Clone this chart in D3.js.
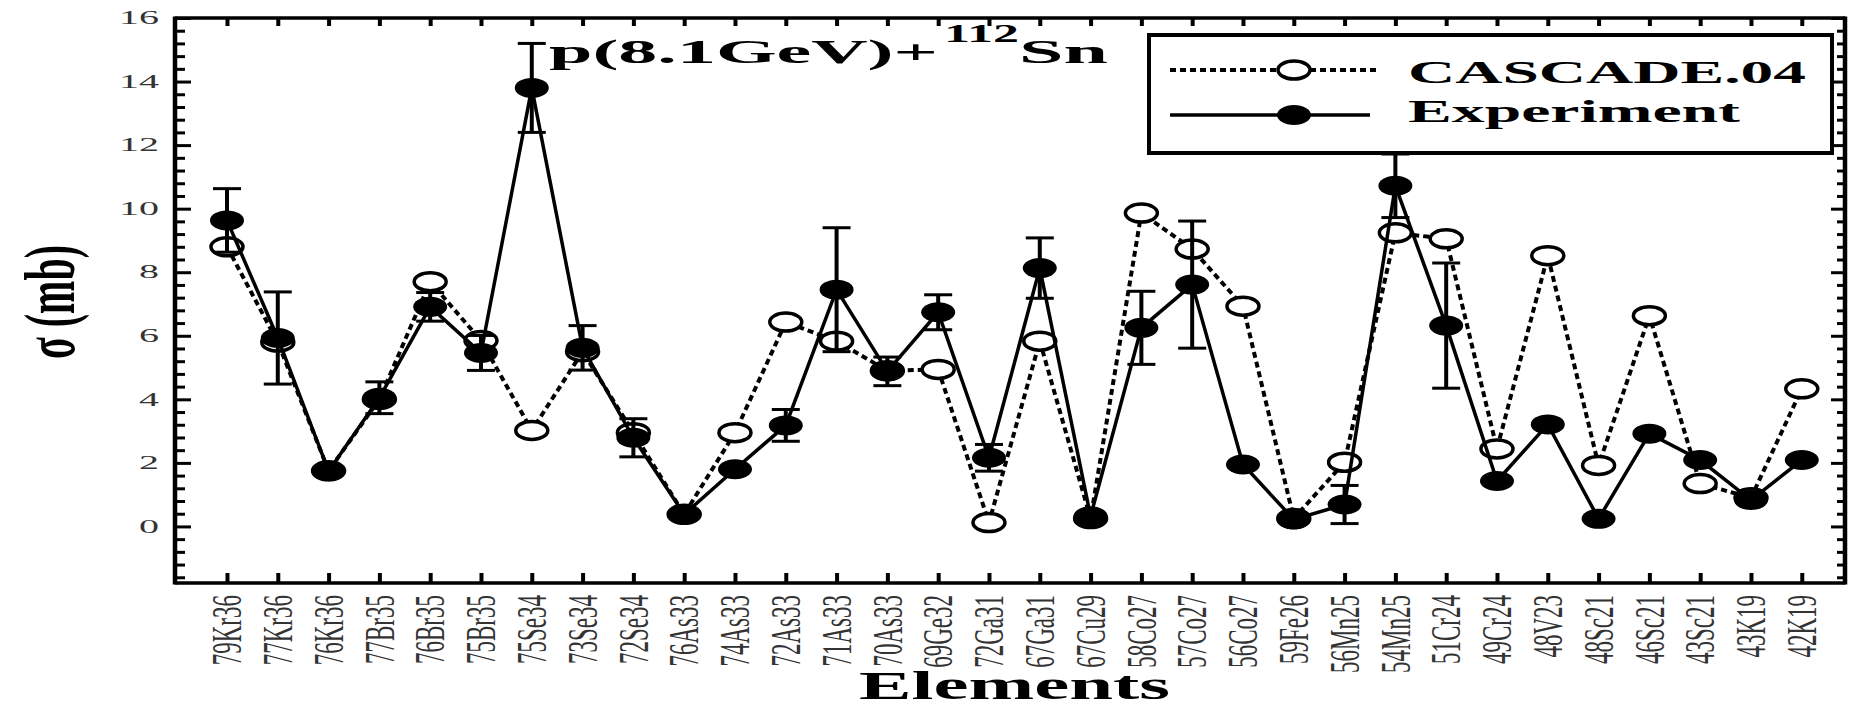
<!DOCTYPE html>
<html>
<head>
<meta charset="utf-8">
<script src="https://cdn.jsdelivr.net/npm/d3@7"></script>
<style>
  body { margin: 0; background: #fff; }
  text { font-family: "Liberation Serif", "DejaVu Serif", serif; }
</style>
</head>
<body>
<div id="graph"></div>
<script>
// data
var elements = ["79Kr36","77Kr36","76Kr36","77Br35","76Br35","75Br35","75Se34","73Se34","72Se34","76As33",
                "74As33","72As33","71As33","70As33","69Ge32","72Ga31","67Ga31","67Cu29","58Co27","57Co27",
                "56Co27","59Fe26","56Mn25","54Mn25","51Cr24","49Cr24","48V23","48Sc21","46Sc21","43Sc21",
                "43K19","42K19"];
var cascade = [8.8, 5.8, 1.75, 4.0, 7.7, 5.85, 3.02, 5.5, 2.95, 0.38,
               2.95, 6.43, 5.83, 4.9, 4.94, 0.12, 5.83, 0.25, 9.86, 8.73,
               6.93, 0.25, 2.02, 9.24, 9.05, 2.44, 8.52, 1.92, 6.63, 1.35,
               0.9, 4.33];
var experiment = [9.63, 5.93, 1.74, 4.05, 6.91, 5.46, 13.8, 5.62, 2.79, 0.38,
                  1.8, 3.18, 7.45, 4.88, 6.74, 2.16, 8.13, 0.32, 6.25, 7.61,
                  1.95, 0.22, 0.69, 10.72, 6.32, 1.43, 3.21, 0.24, 2.92, 2.09,
                  0.83, 2.09];
var expError = [1.0, 1.45, 0, 0.5, 0.45, 0.55, 1.4, 0.7, 0.6, 0,
                0, 0.5, 1.95, 0.45, 0.55, 0.42, 0.95, 0, 1.15, 2.0,
                0, 0, 0.6, 1.0, 1.97, 0, 0, 0, 0, 0,
                0, 0];
var yTicks = [0, 2, 4, 6, 8, 10, 12, 14, 16];
var legendNames = ["CASCADE.04", "Experiment"];

// set the dimensions and margins of the graph
var margin = {top: 18, right: 4, bottom: 126, left: 175},
    width = 1849 - margin.left - margin.right,
    height = 709 - margin.top - margin.bottom;

var x = d3.scalePoint().domain(d3.range(elements.length))
    .range([0, width]).padding(0.937).align(0.546);
var y = d3.scaleLinear().domain([-1.78, 16]).range([height, 0]);

var minorTicks = d3.range(-4, 41).map(function(k) { return +(k * 0.4).toFixed(1); })
    .filter(function(v) { return yTicks.indexOf(v) < 0; });

var svg = d3.select("#graph").append("svg")
    .attr("width", 1849)
    .attr("height", 709)
  .append("g")
    .attr("transform", "translate(" + margin.left + "," + margin.top + ")");

// axes with inward ticks
function styleTicks(g, w) {
  g.select(".domain").remove();
  g.selectAll(".tick line").attr("stroke", "#000").attr("stroke-width", w);
}

var left = svg.append("g")
    .call(d3.axisLeft(y).tickValues(yTicks).tickSize(-16).tickPadding(16));
styleTicks(left, 3);
left.selectAll(".tick text")
    .attr("fill", "#333")
    .style("font-size", "18px")
    .attr("lengthAdjust", "spacingAndGlyphs")
    .attr("textLength", function(d) { return String(d).length * 20; });

svg.append("g")
    .call(d3.axisLeft(y).tickValues(minorTicks).tickSize(-10).tickFormat(""))
    .call(styleTicks, 3);

svg.append("g")
    .attr("transform", "translate(" + width + ",0)")
    .call(d3.axisRight(y).tickValues(yTicks).tickSize(-14).tickFormat(""))
    .call(styleTicks, 3);
svg.append("g")
    .attr("transform", "translate(" + width + ",0)")
    .call(d3.axisRight(y).tickValues(minorTicks).tickSize(-8).tickFormat(""))
    .call(styleTicks, 3);

svg.append("g")
    .call(d3.axisTop(x).tickSize(-8).tickFormat(""))
    .call(styleTicks, 4);
svg.append("g")
    .attr("transform", "translate(0," + height + ")")
    .call(d3.axisBottom(x).tickSize(-10).tickFormat(""))
    .call(styleTicks, 4);

// frame
svg.append("line").attr("x1", 0).attr("x2", width).attr("y1", 0).attr("y2", 0)
    .attr("stroke", "#000").attr("stroke-width", 3.5);
svg.append("line").attr("x1", 0).attr("x2", width).attr("y1", height).attr("y2", height)
    .attr("stroke", "#000").attr("stroke-width", 3.5);
svg.append("line").attr("x1", 0).attr("x2", 0).attr("y1", -1.5).attr("y2", height + 1.5)
    .attr("stroke", "#000").attr("stroke-width", 4.5);
svg.append("line").attr("x1", width).attr("x2", width).attr("y1", -1.5).attr("y2", height + 1.5)
    .attr("stroke", "#000").attr("stroke-width", 4.5);

// element labels, rotated and stretched like the picture
svg.selectAll(".xlab")
    .data(elements)
  .enter().append("text")
    .attr("class", "xlab")
    .attr("transform", function(d, i) {
      return "translate(" + x(i) + "," + (height + 12) + ") scale(1.85,1) rotate(-90)";
    })
    .attr("text-anchor", "end")
    .attr("dominant-baseline", "central")
    .attr("fill", "#333")
    .style("font-size", "23px")
    .text(function(d) { return d; });

// lines
var valueline = function(values) {
  return d3.line()
      .x(function(d, i) { return x(i); })
      .y(function(d) { return y(d); })(values);
};

svg.append("path")
    .attr("d", valueline(cascade))
    .attr("fill", "none")
    .attr("stroke", "#000")
    .attr("stroke-width", 4)
    .attr("stroke-dasharray", "6,4");

svg.selectAll(".casc")
    .data(cascade)
  .enter().append("ellipse")
    .attr("class", "casc")
    .attr("cx", function(d, i) { return x(i); })
    .attr("cy", function(d) { return y(d); })
    .attr("rx", 16).attr("ry", 9)
    .attr("fill", "#fff")
    .attr("stroke", "#000")
    .attr("stroke-width", 3.5);

svg.append("path")
    .attr("d", valueline(experiment))
    .attr("fill", "none")
    .attr("stroke", "#000")
    .attr("stroke-width", 3.5);

// error bars
var bars = svg.selectAll(".err")
    .data(experiment.map(function(v, i) { return {i: i, v: v, e: expError[i]}; })
      .filter(function(d) { return d.e > 0; }))
  .enter().append("g")
    .attr("class", "err");
bars.append("line")
    .attr("x1", function(d) { return x(d.i); })
    .attr("x2", function(d) { return x(d.i); })
    .attr("y1", function(d) { return y(d.v + d.e); })
    .attr("y2", function(d) { return y(d.v - d.e); })
    .attr("stroke", "#000").attr("stroke-width", 4);
[1, -1].forEach(function(s) {
  bars.append("line")
      .attr("x1", function(d) { return x(d.i) - 14; })
      .attr("x2", function(d) { return x(d.i) + 14; })
      .attr("y1", function(d) { return y(d.v + s * d.e); })
      .attr("y2", function(d) { return y(d.v + s * d.e); })
      .attr("stroke", "#000").attr("stroke-width", 3);
});

svg.selectAll(".expt")
    .data(experiment)
  .enter().append("ellipse")
    .attr("class", "expt")
    .attr("cx", function(d, i) { return x(i); })
    .attr("cy", function(d) { return y(d); })
    .attr("rx", 17).attr("ry", 10)
    .attr("fill", "#000");

// legend
var legend = svg.append("g")
    .attr("transform", "translate(" + (1149 - margin.left) + "," + (35 - margin.top) + ")");
legend.append("rect")
    .attr("width", 683).attr("height", 118)
    .attr("fill", "#fff").attr("stroke", "#000").attr("stroke-width", 4);
legend.append("line")
    .attr("x1", 21).attr("x2", 227).attr("y1", 35).attr("y2", 35)
    .attr("stroke", "#000").attr("stroke-width", 4).attr("stroke-dasharray", "6,4");
legend.append("ellipse")
    .attr("cx", 145).attr("cy", 35).attr("rx", 16).attr("ry", 9)
    .attr("fill", "#fff").attr("stroke", "#000").attr("stroke-width", 3.5);
legend.append("line")
    .attr("x1", 21).attr("x2", 221).attr("y1", 80).attr("y2", 80)
    .attr("stroke", "#000").attr("stroke-width", 3.5);
legend.append("ellipse")
    .attr("cx", 145).attr("cy", 80).attr("rx", 17).attr("ry", 10)
    .attr("fill", "#000");
legend.selectAll(".lt")
    .data(legendNames)
  .enter().append("text")
    .attr("class", "lt")
    .attr("x", 259)
    .attr("y", function(d, i) { return 48 + i * 39; })
    .attr("lengthAdjust", "spacingAndGlyphs")
    .attr("textLength", function(d, i) { return i === 0 ? 398 : 332; })
    .style("font-size", "31px")
    .style("font-weight", "bold")
    .text(function(d) { return d; });

// title
var title = svg.append("g")
    .attr("transform", "translate(" + (-margin.left) + "," + (-margin.top) + ")");
title.append("text")
    .attr("x", 549).attr("y", 63)
    .attr("lengthAdjust", "spacingAndGlyphs").attr("textLength", 389)
    .style("font-size", "33px").style("font-weight", "bold")
    .text("p(8.1GeV)+");
title.append("text")
    .attr("x", 944).attr("y", 42)
    .attr("lengthAdjust", "spacingAndGlyphs").attr("textLength", 75)
    .style("font-size", "26px").style("font-weight", "bold")
    .text("112");
title.append("text")
    .attr("x", 1019).attr("y", 63)
    .attr("lengthAdjust", "spacingAndGlyphs").attr("textLength", 89)
    .style("font-size", "33px").style("font-weight", "bold")
    .text("Sn");

// axis titles
title.append("text")
    .attr("x", 859).attr("y", 699)
    .attr("lengthAdjust", "spacingAndGlyphs").attr("textLength", 311)
    .style("font-size", "40px").style("font-weight", "bold")
    .text("Elements");
title.append("text")
    .attr("transform", "translate(74,302) scale(1.8,1) rotate(-90)")
    .attr("text-anchor", "middle")
    .style("font-size", "40px").style("font-weight", "bold")
    .text("σ (mb)");
</script>
</body>
</html>
